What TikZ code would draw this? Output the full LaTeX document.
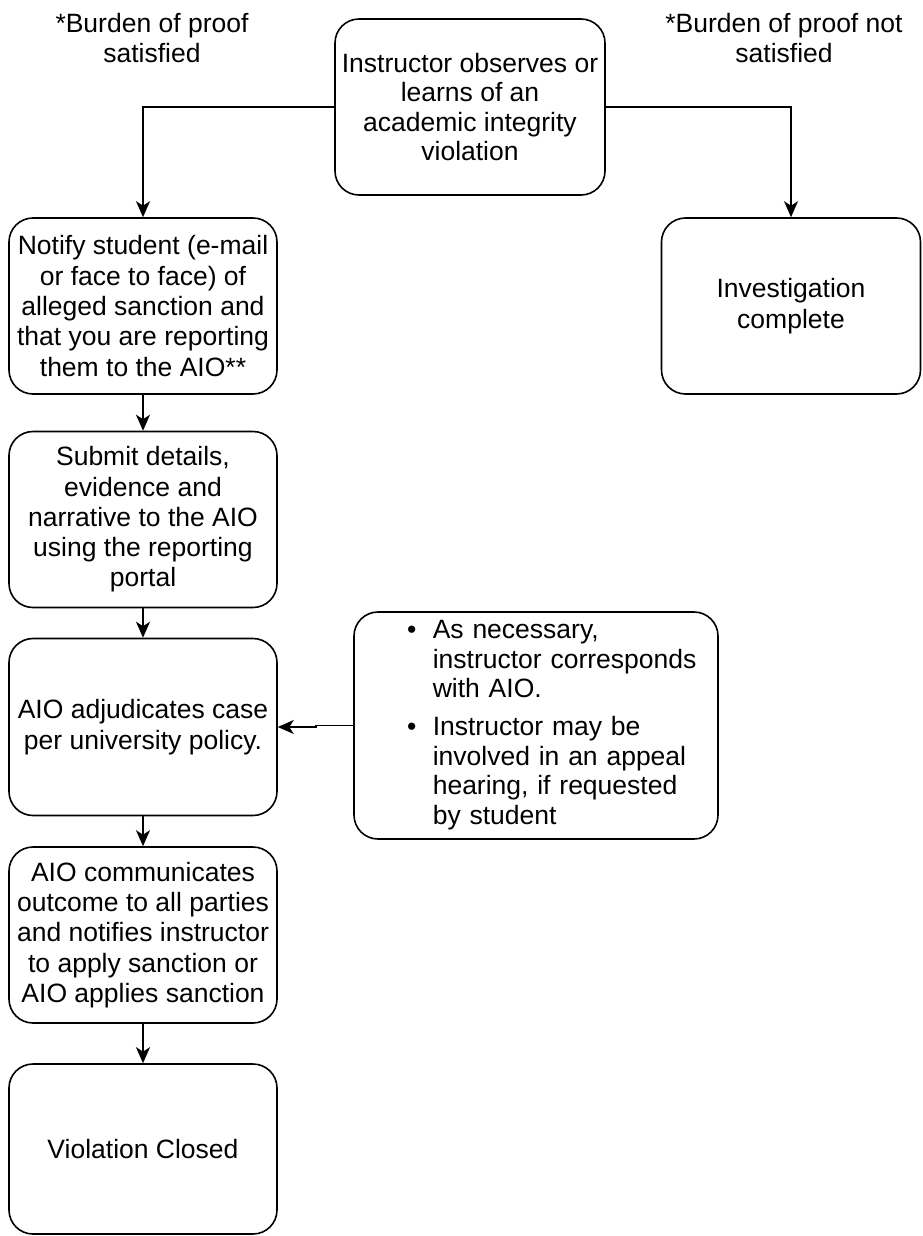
\documentclass[tikz,border=0pt]{standalone}
\usepackage{fontspec}
\setmainfont{Liberation Sans}
\usetikzlibrary{arrows.meta}
\begin{document}
\begin{tikzpicture}[x=1pt,y=-1pt,
  box/.style={draw, line width=1.6pt, rounded corners=24pt, align=center,
    inner sep=0pt, minimum width=268pt, minimum height=176pt,
    font=\fontsize{26.5}{30.3}\selectfont},
  lbl/.style={align=center, inner sep=0pt, font=\fontsize{26.5}{30}\selectfont},
  arr/.style={line width=1.6pt, -{Stealth[length=16pt,width=14pt,inset=4.5pt]}}
]
\useasboundingbox (0,0) rectangle (922,1236);

\node[lbl] (lsat) at (152,38) {*Burden of proof\\satisfied};
\node[lbl] (lnot) at (784,38) {*Burden of proof not\\satisfied};

\node[box, minimum width=270pt, font=\fontsize{26.5}{29.5}\selectfont] (top) at (470,107)
  {Instructor observes or\\learns of an\\academic integrity\\violation};
\node[box] (notify) at (143,306)
  {Notify student (e-mail\\or face to face) of\\alleged sanction and\\that you are reporting\\them to the AIO**};
\node[box, minimum width=259pt] (inv) at (791,306) {Investigation\\complete};
\node[box] (submit) at (143,519.5)
  {Submit details,\\evidence and\\narrative to the AIO\\using the reporting\\portal};
\node[box, minimum height=177pt] (adj) at (143,727)
  {AIO adjudicates case\\per university policy.};
\node[box, minimum width=364pt, minimum height=227pt, text width=364pt, align=left,
  font=\fontsize{26.5}{29.7}\selectfont] (bul) at (536,725.5)
  {\begin{tabular}{@{\hspace{53pt}}c@{\hspace{16.5pt}}l@{}}
   \textbullet & As necessary,\\
    & instructor corresponds\\
    & with AIO.\\[8pt]
   \textbullet & Instructor may be\\
    & involved in an appeal\\
    & hearing, if requested\\
    & by student
   \end{tabular}};
\node[box] (comm) at (143,935)
  {AIO communicates\\outcome to all parties\\and notifies instructor\\to apply sanction or\\AIO applies sanction};
\node[box, minimum height=170pt] (closed) at (143,1149) {Violation Closed};

\draw[arr] (top.west) -| (notify.north);
\draw[arr] (top.east) -| (inv.north);
\draw[arr] (notify.south) -- (submit.north);
\draw[arr] (submit.south) -- (adj.north);
\draw[arr] (bul.west) -- ++(-37,0) |- (adj.east);
\draw[arr] (adj.south) -- (comm.north);
\draw[arr, line width=2.4pt] (comm.south) -- (closed.north);
\end{tikzpicture}
\end{document}
